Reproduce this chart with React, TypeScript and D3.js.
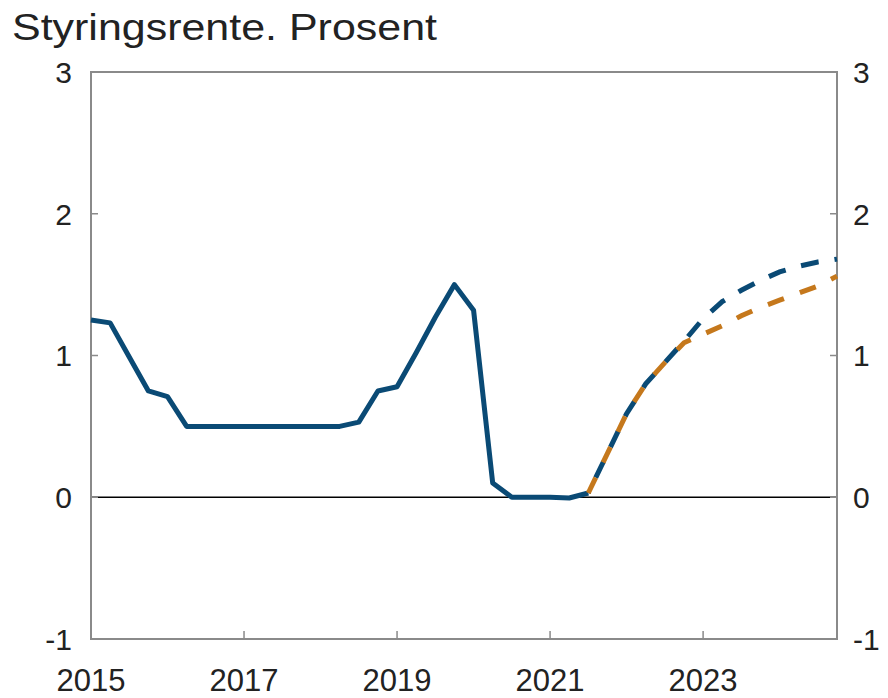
import React from "react";
import * as d3 from "d3";

// Quarterly data, 2015Q1 .. 2024Q4
const startYear = 2015;
const history: number[] = [
  1.25, 1.23, 0.99, 0.75, 0.71, 0.5, 0.5, 0.5, 0.5, 0.5, 0.5, 0.5, 0.5, 0.5,
  0.53, 0.75, 0.78, 1.02, 1.27, 1.5, 1.32, 0.1, 0.0, 0.0, 0.0, -0.005, 0.03,
];
const forecastStart = 26;
const forecastBlue: number[] = [
  0.03, 0.31, 0.59, 0.8, 0.95, 1.1, 1.26, 1.38, 1.46, 1.53, 1.59, 1.63, 1.66, 1.68,
];
const forecastOrange: number[] = [
  0.03, 0.31, 0.59, 0.8, 0.95, 1.09, 1.15, 1.21, 1.28, 1.34, 1.39, 1.44, 1.49, 1.56,
];
const yTicks = [-1, 0, 1, 2, 3];
const xTickYears = [2015, 2017, 2019, 2021, 2023];
const title = "Styringsrente. Prosent";

const W = 888;
const H = 698;
const left = 91;
const right = 837;
const top = 72;
const bottom = 639;

const blue = "#0a4a75";
const orange = "#c5781c";
const frame = "#8a8a8a";
const font = "'Liberation Sans', Arial, sans-serif";

export default function App() {
  const x = d3.scaleLinear().domain([2015, 2024.75]).range([left, right]);
  const y = d3.scaleLinear().domain([-1, 3]).range([bottom, top]);
  const t = (i: number) => startYear + i / 4;

  const line = d3
    .line<[number, number]>()
    .x((d) => x(d[0]))
    .y((d) => y(d[1]))
    .curve(d3.curveLinear);

  const histPts: [number, number][] = history.map((v, i) => [t(i), v]);
  const bluePts: [number, number][] = forecastBlue.map((v, i) => [t(forecastStart + i), v]);
  const orangePts: [number, number][] = forecastOrange.map((v, i) => [t(forecastStart + i), v]);

  return (
    <svg
      width={W}
      height={H}
      style={{ position: "absolute", left: 0, top: 0, background: "#fff" }}
      fontFamily={font}
    >
      <rect x={0} y={0} width={W} height={H} fill="#fff" />
      <text x={12} y={40} fontSize={37} fill="#222" textLength={425} lengthAdjust="spacingAndGlyphs">
        {title}
      </text>

      {/* zero line */}
      <line x1={left} x2={right} y1={y(0)} y2={y(0)} stroke="#000" strokeWidth={1.5} />

      {/* frame */}
      <rect
        x={left}
        y={top}
        width={right - left}
        height={bottom - top}
        fill="none"
        stroke={frame}
        strokeWidth={2}
      />

      {/* y ticks */}
      {yTicks.map((v) => (
        <g key={v}>
          <line x1={left} x2={left + 7} y1={y(v)} y2={y(v)} stroke={frame} strokeWidth={1.5} />
          <line x1={right - 7} x2={right} y1={y(v)} y2={y(v)} stroke={frame} strokeWidth={1.5} />
          <text x={72} y={y(v)} dy="0.36em" fontSize={30} textAnchor="end" fill="#222">
            {v}
          </text>
          <text x={853} y={y(v)} dy="0.36em" fontSize={30} textAnchor="start" fill="#222">
            {v}
          </text>
        </g>
      ))}

      {/* x ticks */}
      {xTickYears.map((yr) => (
        <g key={yr}>
          <line x1={x(yr)} x2={x(yr)} y1={bottom} y2={bottom - 8} stroke={frame} strokeWidth={1.5} />
          <text x={x(yr)} y={691} fontSize={31} textAnchor="middle" fill="#222">
            {yr}
          </text>
        </g>
      ))}

      {/* lines */}
      <path d={line(histPts) || ""} fill="none" stroke={blue} strokeWidth={5} strokeLinejoin="round" />
      <path
        d={line(bluePts) || ""}
        fill="none"
        stroke={blue}
        strokeWidth={5}
        strokeDasharray="18 16"
        strokeDashoffset={17}
      />
      <path
        d={line(orangePts) || ""}
        fill="none"
        stroke={orange}
        strokeWidth={5}
        strokeDasharray="17 17"
      />
    </svg>
  );
}
